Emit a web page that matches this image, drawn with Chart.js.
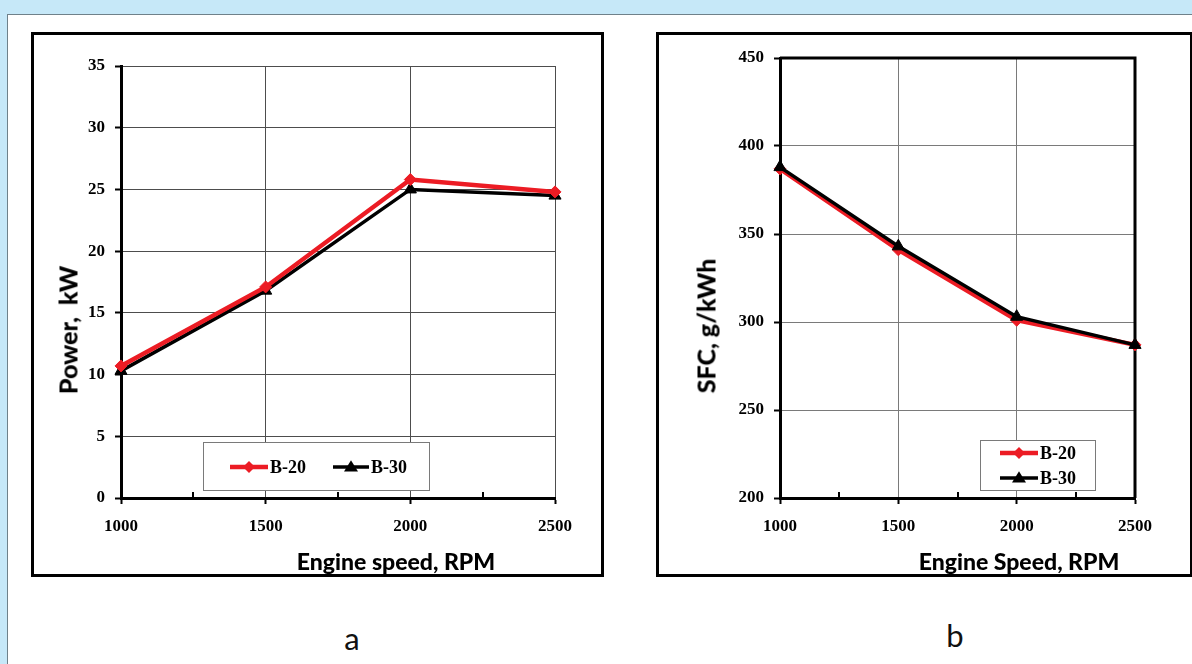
<!DOCTYPE html>
<html>
<head>
<meta charset="utf-8">
<script src="https://cdn.jsdelivr.net/npm/chart.js@4.4.1/dist/chart.umd.min.js"></script>
<style>
  html, body { margin: 0; padding: 0; width: 1192px; height: 664px; overflow: hidden; background: #C6E8F8; }
  #sheet { position: absolute; left: 7px; top: 14px; width: 1185px; height: 650px; background: #fff;
           border-left: 1px solid #6f818a; border-top: 1px solid #6f818a; box-sizing: border-box; }
  .frame { position: absolute; border: 3px solid #000; box-sizing: border-box; }
  canvas { position: absolute; }
  .title { position: absolute; font-family: Lato, "Open Sans", sans-serif; font-weight: 900; font-size: 23px;
           color: #000; white-space: pre; transform: translate(-50%, -50%); line-height: 1; }
  .ytitle { font-size: 25px; transform: translate(-50%, -50%) rotate(-90deg); }
  .panel { position: absolute; font-family: Lato, "Open Sans", sans-serif; font-size: 31px; color: #111;
           transform: translate(-50%, -50%); line-height: 1; }
</style>
</head>
<body>
<div id="sheet"></div>
<div class="frame" style="left:31px; top:32px; width:573px; height:545px;"></div>
<div class="frame" style="left:656px; top:32px; width:537px; height:545px;"></div>

<canvas id="powerChart" width="567" height="539" style="left:34px; top:35px; width:567px; height:539px;"></canvas>
<canvas id="sfcChart" width="530" height="539" style="left:659px; top:35px; width:530px; height:539px;"></canvas>

<div class="title" style="left:396px; top:561px;">Engine speed, RPM</div>
<div class="title ytitle" style="left:68px; top:330px;">Power,  kW</div>
<div class="title" style="left:1019px; top:561px;">Engine Speed, RPM</div>
<div class="title ytitle" style="left:706px; top:326px;">SFC, g/kWh</div>
<div class="panel" style="left:352px; top:638px;">a</div>
<div class="panel" style="left:955px; top:635px;">b</div>

<script>
// Engine speed (RPM) and the two blends
const rpm = [1000, 1500, 2000, 2500];
const seriesNames = ['B-20', 'B-30'];

// Brake power, kW
const powerB20 = [10.7, 17.1, 25.8, 24.8];
const powerB30 = [10.3, 16.8, 25.0, 24.5];

// Specific fuel consumption, g/kWh
const sfcB20 = [387, 341, 301, 287];
const sfcB30 = [388, 343, 303, 287];

// Axis ranges / steps
const rpmTicks = { min: 1000, max: 2500, step: 250, labelEvery: 500 };
const powerTicks = { min: 0, max: 35, step: 5 };
const sfcTicks = { min: 200, max: 450, step: 50 };

const RED = '#EC1C24';
const BLACK = '#000000';
const tickFont = { family: 'Liberation Serif', weight: 'bold', size: 17 };

function toPoints(values) {
  return rpm.map((r, i) => ({ x: r, y: values[i] }));
}

// Short inward marks at the unlabelled x positions, plus optional heavy top/right edges
const axisExtras = {
  id: 'axisExtras',
  beforeDatasetsDraw(chart, args, opts) {
    const { ctx, chartArea: a, scales } = chart;
    ctx.save();
    ctx.strokeStyle = '#000';
    ctx.lineWidth = 2;
    scales.x.ticks.forEach(t => {
      if (t.value % rpmTicks.labelEvery !== 0) {
        const px = Math.round(scales.x.getPixelForValue(t.value));
        ctx.beginPath();
        ctx.moveTo(px, a.bottom);
        ctx.lineTo(px, a.bottom - 6);
        ctx.stroke();
      }
    });
    if (opts.closedBox) {
      ctx.lineWidth = 3;
      ctx.beginPath();
      ctx.moveTo(a.left, a.top);
      ctx.lineTo(a.right, a.top);
      ctx.lineTo(a.right, a.bottom);
      ctx.stroke();
    }
    ctx.restore();
  }
};

// Boxed legend drawn inside the plot
function drawMarker(ctx, style, radius, color, x, y) {
  ctx.fillStyle = color;
  ctx.beginPath();
  if (style === 'rectRot') {
    ctx.moveTo(x, y - radius); ctx.lineTo(x + radius, y); ctx.lineTo(x, y + radius); ctx.lineTo(x - radius, y);
  } else {
    const h = radius * 1.6;
    ctx.moveTo(x, y - h * 0.6); ctx.lineTo(x + radius, y + h * 0.4); ctx.lineTo(x - radius, y + h * 0.4);
  }
  ctx.closePath();
  ctx.fill();
}

const boxLegend = {
  id: 'boxLegend',
  afterDatasetsDraw(chart, args, opts) {
    const { ctx } = chart;
    const b = opts.box;
    ctx.save();
    ctx.fillStyle = '#fff';
    ctx.fillRect(b.x, b.y, b.w, b.h);
    ctx.strokeStyle = '#7a7a7a';
    ctx.lineWidth = 1;
    ctx.strokeRect(b.x + 0.5, b.y + 0.5, b.w, b.h);
    chart.data.datasets.forEach((ds, i) => {
      const it = opts.items[i];
      ctx.strokeStyle = ds.borderColor;
      ctx.lineWidth = ds.borderWidth;
      ctx.beginPath();
      ctx.moveTo(it.x1, it.y);
      ctx.lineTo(it.x2, it.y);
      ctx.stroke();
      drawMarker(ctx, ds.pointStyle, ds.pointRadius, ds.pointBackgroundColor, (it.x1 + it.x2) / 2, it.y);
      ctx.fillStyle = '#000';
      ctx.font = 'bold 18px "Liberation Serif"';
      ctx.textBaseline = 'middle';
      ctx.textAlign = 'left';
      ctx.fillText(ds.label, it.x2 + 2, it.y + 1);
    });
    ctx.restore();
  }
};

function makeChart(canvasId, b20, b30, yRange, look) {
  const datasets = [
    { label: seriesNames[0], data: toPoints(b20), borderColor: RED, backgroundColor: RED,
      borderWidth: 4.5, pointStyle: 'rectRot', pointRadius: 6, pointBackgroundColor: RED,
      pointBorderColor: RED, pointBorderWidth: 1, tension: 0, clip: false, order: look.redOrder },
    { label: seriesNames[1], data: toPoints(b30), borderColor: BLACK, backgroundColor: BLACK,
      borderWidth: 3.5, pointStyle: 'triangle', pointRadius: 7, pointBackgroundColor: BLACK,
      pointBorderColor: BLACK, pointBorderWidth: 1, tension: 0, clip: false, order: look.blackOrder }
  ];
  return new Chart(document.getElementById(canvasId), {
    type: 'line',
    data: { datasets },
    plugins: [axisExtras, boxLegend],
    options: {
      responsive: false,
      animation: false,
      devicePixelRatio: 1,
      events: [],
      layout: { padding: { top: look.padTop, right: look.padRight, left: 0, bottom: 0 } },
      plugins: {
        legend: { display: false },
        tooltip: { enabled: false },
        title: { display: false },
        axisExtras: { closedBox: look.closedBox },
        boxLegend: look.legend
      },
      scales: {
        x: {
          type: 'linear',
          min: rpmTicks.min, max: rpmTicks.max,
          afterFit: s => { s.height = look.xAxisHeight; },
          border: { display: true, color: '#000', width: 3 },
          grid: {
            color: c => (c.tick && c.tick.value % rpmTicks.labelEvery === 0) ? look.gridColor : 'rgba(0,0,0,0)',
            tickColor: c => (c.tick && c.tick.value % rpmTicks.labelEvery === 0) ? '#000' : 'rgba(0,0,0,0)',
            lineWidth: 1, tickLength: 6, tickWidth: 2
          },
          ticks: {
            stepSize: rpmTicks.step, autoSkip: false, maxRotation: 0, minRotation: 0,
            color: '#000', font: tickFont, padding: 12,
            callback: v => (v % rpmTicks.labelEvery === 0 ? String(v) : '')
          }
        },
        y: {
          type: 'linear',
          min: yRange.min, max: yRange.max,
          afterFit: s => { s.width = look.yAxisWidth; },
          border: { display: true, color: '#000', width: 3 },
          grid: { color: look.gridColor, lineWidth: 1, tickColor: '#000', tickLength: 6, tickWidth: 2 },
          ticks: { stepSize: yRange.step, color: '#000', font: tickFont, padding: 10 }
        }
      }
    }
  });
}

makeChart('powerChart', powerB20, powerB30, powerTicks, {
  padTop: 31, padRight: 46, yAxisWidth: 87, xAxisHeight: 76,
  gridColor: '#4d4d4d', closedBox: false, redOrder: 0, blackOrder: 1,
  legend: {
    box: { x: 169, y: 407, w: 226, h: 48 },
    items: [ { x1: 196, x2: 234, y: 432 }, { x1: 299, x2: 335, y: 432 } ]
  }
});

makeChart('sfcChart', sfcB20, sfcB30, sfcTicks, {
  padTop: 23, padRight: 54, yAxisWidth: 121, xAxisHeight: 76,
  gridColor: '#7a7a7a', closedBox: true, redOrder: 1, blackOrder: 0,
  legend: {
    box: { x: 321, y: 405, w: 115, h: 50 },
    items: [ { x1: 341, x2: 379, y: 418 }, { x1: 341, x2: 379, y: 443 } ]
  }
});
</script>
</body>
</html>
